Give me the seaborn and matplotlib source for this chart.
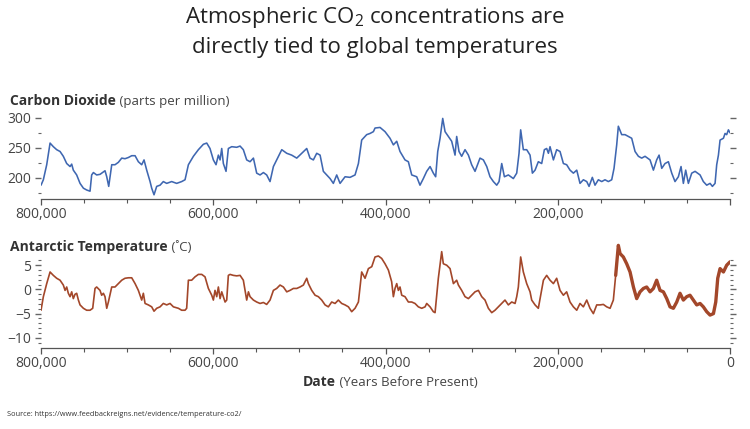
import matplotlib
matplotlib.use("Agg")
import matplotlib.pyplot as plt
import matplotlib.ticker as mticker
import seaborn as sns
import pandas as pd

# values (age in thousands of years before present)
co2_age = [800.0, 797.3, 793.4, 789.5, 785.7, 781.8, 777.9, 774.1, 770.2, 766.3, 764.4, 762.5, 758.6, 754.7,
           750.8, 747.0, 743.1, 741.2, 739.2, 735.4, 731.5, 725.7, 723.7, 721.4, 717.9, 714.1, 710.2, 706.3,
           702.5, 698.6, 694.7, 690.8, 687.0, 683.1, 680.4, 677.3, 673.4, 671.5, 668.8, 665.7, 661.8, 658.0,
           654.1, 648.3, 642.5, 636.7, 632.8, 628.9, 623.1, 617.3, 611.5, 607.6, 603.8, 599.9, 596.8, 594.1,
           592.1, 590.2, 588.3, 585.2, 582.5, 578.6, 572.8, 568.9, 565.1, 561.2, 557.3, 553.4, 549.6, 545.7,
           541.8, 538.0, 534.1, 530.2, 526.4, 520.5, 514.7, 509.0, 503.1, 497.3, 491.5, 487.7, 483.8, 479.9,
           476.0, 472.2, 468.3, 464.4, 460.6, 456.7, 452.8, 447.0, 441.2, 435.4, 431.5, 427.7, 421.9, 418.0,
           414.1, 412.2, 406.4, 400.6, 394.8, 390.9, 387.0, 383.2, 377.4, 373.5, 369.6, 363.8, 360.0, 356.1,
           352.2, 348.3, 344.5, 341.8, 339.4, 336.7, 333.6, 330.9, 327.1, 323.2, 319.3, 317.4, 314.7, 311.6,
           307.7, 303.8, 300.0, 296.1, 290.3, 286.4, 282.5, 278.7, 274.8, 270.9, 268.2, 265.1, 262.0, 257.4,
           251.6, 247.7, 245.0, 243.1, 240.0, 236.1, 232.2, 229.5, 226.4, 222.6, 218.7, 215.6, 212.9, 210.9,
           209.0, 205.1, 201.3, 197.4, 193.5, 189.7, 185.8, 181.9, 178.0, 174.2, 170.3, 166.4, 163.7, 159.9,
           156.8, 152.9, 149.0, 145.2, 141.3, 137.4, 134.7, 131.6, 129.7, 125.8, 121.9, 118.0, 114.2, 110.3,
           106.4, 102.6, 98.7, 92.9, 89.0, 85.2, 82.4, 79.3, 75.5, 71.6, 67.7, 63.9, 60.0, 56.9, 54.2, 51.5,
           48.4, 44.5, 40.6, 34.8, 31.0, 27.1, 23.2, 20.5, 17.4, 15.5, 13.5, 11.6, 7.7, 5.8, 3.9, 1.9, 0.0]
co2_ppm = [188, 197, 222, 258, 252, 247, 244, 236, 224, 219, 223, 213, 205, 191,
           183, 180, 178, 205, 209, 205, 206, 212, 202, 186, 222, 222, 226, 233,
           232, 234, 237, 237, 227, 222, 230, 213, 194, 183, 172, 186, 188, 194,
           191, 194, 191, 194, 197, 222, 236, 247, 256, 258, 249, 230, 222, 238,
           230, 249, 224, 211, 249, 252, 251, 253, 247, 230, 227, 233, 208, 205,
           209, 205, 194, 219, 230, 247, 241, 238, 233, 241, 249, 233, 230, 241,
           238, 211, 205, 199, 191, 205, 191, 202, 201, 205, 224, 263, 272, 274,
           277, 283, 284, 277, 266, 255, 261, 244, 230, 227, 205, 202, 188, 199,
           211, 219, 208, 202, 244, 266, 299, 277, 269, 261, 238, 269, 244, 236,
           247, 238, 222, 211, 233, 230, 219, 202, 194, 188, 194, 224, 202, 205,
           199, 208, 241, 280, 247, 247, 238, 208, 213, 227, 224, 247, 249, 241,
           252, 230, 247, 244, 224, 222, 213, 208, 213, 191, 197, 194, 186, 201,
           188, 197, 194, 197, 194, 197, 216, 255, 286, 272, 272, 269, 266, 244,
           236, 233, 236, 230, 213, 230, 238, 216, 224, 227, 208, 194, 202, 219, 191, 213,
           191, 208, 211, 205, 194, 188, 191, 186, 191, 222, 238, 263, 266, 274, 272, 280, 275]

temp_age = [800.0, 797.3, 793.4, 789.5, 785.7, 781.8, 777.9, 774.1, 772.1, 770.2, 768.3, 766.3, 764.4, 762.5,
            760.5, 758.6, 756.6, 754.7, 750.8, 747.0, 743.1, 740.0, 737.3, 735.4, 731.5, 729.6, 727.6, 725.7,
            723.7, 721.8, 717.9, 714.1, 710.2, 706.3, 702.5, 698.6, 694.7, 690.8, 687.0, 683.1, 681.2, 679.2,
            675.4, 671.5, 668.8, 665.7, 661.8, 658.0, 654.1, 650.2, 646.3, 640.5, 636.7, 632.8, 630.9, 628.9,
            625.1, 621.2, 617.3, 613.4, 609.6, 605.7, 601.8, 599.9, 598.0, 596.0, 594.1, 592.1, 590.2, 588.3,
            586.3, 584.4, 582.5, 580.5, 576.7, 572.8, 568.9, 565.1, 561.2, 559.2, 557.3, 553.4, 549.6, 545.7,
            541.8, 538.0, 534.1, 530.2, 526.4, 522.5, 518.6, 514.7, 510.9, 507.0, 503.1, 499.3, 495.4, 491.5,
            489.6, 485.7, 481.8, 478.0, 474.1, 470.2, 466.4, 462.5, 458.6, 454.8, 450.9, 447.0, 443.1, 439.3,
            435.4, 431.5, 427.7, 423.8, 419.9, 416.0, 412.2, 408.3, 404.5, 400.6, 396.7, 392.9, 390.9, 389.0,
            387.0, 385.1, 383.2, 381.2, 377.4, 373.5, 369.6, 365.8, 361.9, 358.0, 354.1, 352.2, 348.3, 344.5,
            342.5, 338.7, 334.8, 332.9, 329.0, 325.1, 321.2, 317.4, 315.4, 311.6, 307.7, 303.8, 300.0, 296.1,
            292.2, 288.3, 284.5, 280.6, 276.7, 272.9, 269.0, 265.1, 261.3, 257.4, 253.5, 249.6, 247.7, 245.8,
            243.1, 240.0, 236.1, 232.2, 230.3, 226.4, 222.6, 220.6, 216.7, 212.9, 209.0, 205.1, 201.3, 197.4,
            193.5, 189.7, 185.8, 181.9, 178.0, 174.2, 170.3, 166.4, 162.6, 158.7, 154.8, 150.9, 147.1, 143.2,
            139.3, 135.5, 132.8, 129.7, 127.7, 123.9, 120.0, 116.1, 112.2, 108.4, 104.5, 100.6, 96.8, 92.9,
            89.0, 85.2, 81.3, 77.4, 73.5, 69.7, 65.8, 61.9, 58.1, 54.2, 50.3, 46.5, 42.6, 38.7, 34.8, 31.0,
            27.1, 23.2, 19.3, 16.6, 14.3, 11.6, 7.7, 3.9, 0.0]
temp_c = [-4.3, -1.5, 1.2, 3.6, 2.9, 2.3, 1.9, 0.9, -0.2, 0.5, -0.8, -1.5, -0.5, -1.9,
          -1.0, -0.8, -2.2, -3.2, -3.9, -4.3, -4.3, -3.9, 0.2, 0.5, -0.2, -1.2, -0.8, -1.5,
          -3.9, -2.6, 0.5, 0.5, 1.2, 1.9, 2.3, 2.4, 2.4, 1.2, -0.2, -2.2, -0.8, -2.9,
          -3.2, -3.6, -4.5, -3.9, -3.6, -2.9, -3.2, -2.9, -3.6, -3.9, -4.3, -4.3, -3.9, 1.9,
          1.9, 2.6, 3.1, 3.1, 2.6, 0.2, -1.2, -2.2, -0.2, -1.5, 0.5, -1.9, -0.5, -1.5,
          -2.6, -2.2, 2.9, 3.1, 2.9, 2.8, 2.9, 1.9, -2.2, -0.5, -1.5, -2.2, -2.6, -2.9,
          -2.7, -3.1, -2.2, -0.2, 0.2, 0.9, 0.5, -0.5, -0.2, 0.2, 0.2, 0.5, 0.9, 2.3,
          1.2, -0.2, -1.2, -1.5, -2.2, -3.2, -3.6, -2.6, -2.9, -2.2, -2.9, -3.2, -3.6, -4.6,
          -3.9, -2.6, 3.6, 2.3, 4.3, 4.7, 6.7, 6.9, 6.4, 5.3, 4.0, 1.6, -1.5, 0.2,
          1.2, -0.2, 0.5, -1.2, -1.5, -2.6, -2.6, -2.9, -3.6, -3.9, -3.6, -2.9, -3.6, -4.6,
          -4.8, 2.3, 7.8, 5.3, 5.0, 4.3, 1.2, 1.9, 0.9, -0.2, -1.5, -1.9, -1.2, -0.5,
          -0.2, -1.5, -2.2, -3.9, -4.8, -4.3, -3.6, -2.9, -2.2, -3.2, -2.6, -2.9, -1.5, 0.5,
          6.7, 3.6, 1.2, -0.5, -2.2, -3.2, -3.9, -1.9, 1.9, 2.9, 1.9, 1.2, 2.3, -0.2,
          -1.2, -0.5, -2.6, -3.6, -4.3, -2.9, -3.6, -2.2, -3.9, -5.0, -3.2, -3.2, -3.1, -3.6,
          -3.9, -2.2, 2.9, 9.1, 7.4, 6.7, 5.3, 3.6, 0.5, -1.9, -0.5, 0.2, 0.5, -0.5,
          0.2, 1.9, -0.2, -0.5, -1.9, -3.6, -3.9, -2.6, -0.8, -2.2, -1.5, -1.2, -2.2, -3.2, -2.9, -3.6,
          -4.6, -5.3, -5.0, -2.6, 2.3, 4.3, 3.6, 5.0, 5.7]

co2_df = pd.DataFrame({"age": co2_age, "ppm": co2_ppm})
temp_df = pd.DataFrame({"age": temp_age, "temp": temp_c})
# the most recent part of the record is densely sampled and shows up as a thick band
recent = temp_df[temp_df["age"] <= 133]

sns.set_theme(style="white")
plt.rcParams["font.family"] = ["Open Sans", "DejaVu Sans"]
plt.rcParams["mathtext.fontset"] = "custom"
plt.rcParams["mathtext.rm"] = "Open Sans"

fig = plt.figure(figsize=(7.5, 4.29), dpi=100)
ax1 = fig.add_axes([0.0547, 0.5361, 0.9187, 0.2005])
ax2 = fig.add_axes([0.0547, 0.1888, 0.9187, 0.2517])

sns.lineplot(data=co2_df, x="age", y="ppm", ax=ax1, color="#3f67b1", linewidth=1.15,
             sort=False, estimator=None)
sns.lineplot(data=temp_df, x="age", y="temp", ax=ax2, color="#a3472a", linewidth=1.2,
             sort=False, estimator=None)
sns.lineplot(data=recent, x="age", y="temp", ax=ax2, color="#a3472a", linewidth=2.4,
             sort=False, estimator=None)

grey = "#444444"


def years_fmt(hide_zero):
    def f(v, pos):
        if hide_zero and abs(v) < 1e-6:
            return ""
        return "{:,.0f}".format(v * 1000)
    return mticker.FuncFormatter(f)


for ax, hide0 in [(ax1, True), (ax2, False)]:
    ax.set_xlim(800, 0)
    ax.set_xlabel("")
    ax.set_ylabel("")
    for s in ["top", "right", "left"]:
        ax.spines[s].set_visible(False)
    ax.spines["bottom"].set_color("#555555")
    ax.spines["bottom"].set_linewidth(0.9)
    ax.xaxis.set_major_locator(mticker.MultipleLocator(200))
    ax.xaxis.set_minor_locator(mticker.MultipleLocator(50))
    ax.xaxis.set_major_formatter(years_fmt(hide0))
    ax.tick_params(axis="x", which="major", direction="out", length=4, width=0.9,
                   colors="#555555", labelcolor=grey, labelsize=10, pad=2, bottom=True)
    ax.tick_params(axis="x", which="minor", direction="out", length=3, width=0.8,
                   colors="#555555", bottom=True)
    ax.tick_params(axis="y", which="both", left=True, right=True, direction="out",
                   colors="#666666", labelcolor=grey, labelsize=10, pad=3)
    ax.tick_params(axis="y", which="major", length=4, width=1.0)
    ax.tick_params(axis="y", which="minor", length=2, width=0.8)

ax1.set_ylim(165, 308)
ax1.yaxis.set_major_locator(mticker.MultipleLocator(50))
ax1.yaxis.set_minor_locator(mticker.MultipleLocator(25))

ax2.set_ylim(-12.1, 10.2)
ax2.yaxis.set_major_locator(mticker.FixedLocator([-10, -5, 0, 5]))
ax2.yaxis.set_minor_locator(mticker.FixedLocator(list(range(-11, 7))))

# panel labels
t1 = fig.text(10 / 750, 1 - 101 / 429, "Carbon Dioxide", fontsize=10, fontweight="bold",
              color="#333333", va="center", ha="left")
fig.add_artist(plt.Annotation(" (parts per million)", xy=(1, 0.5), xycoords=t1,
                              va="center", ha="left", fontsize=9.5, color="#444444"))
t2 = fig.text(10 / 750, 1 - 247 / 429, "Antarctic Temperature", fontsize=10, fontweight="bold",
              color="#333333", va="center", ha="left")
fig.add_artist(plt.Annotation(" (˚C)", xy=(1, 0.5), xycoords=t2,
                              va="center", ha="left", fontsize=9.5, color="#444444"))
t3 = fig.text(303 / 750, 1 - 382 / 429, "Date", fontsize=10, fontweight="bold",
              color="#333333", va="center", ha="left")
fig.add_artist(plt.Annotation(" (Years Before Present)", xy=(1, 0.5), xycoords=t3,
                              va="center", ha="left", fontsize=9.5, color="#444444"))

# title
fig.text(0.5, 1 - 18 / 429, r"Atmospheric CO$_{\mathrm{2}}$ concentrations are", fontsize=16,
         color="#222222", ha="center", va="center")
fig.text(0.5, 1 - 47 / 429, "directly tied to global temperatures", fontsize=16,
         color="#222222", ha="center", va="center")

fig.text(7 / 750, 1 - 415 / 429, "Source: https://www.feedbackreigns.net/evidence/temperature-co2/",
         fontsize=5.3, color="#333333", ha="left", va="center")

fig.savefig("out.png", dpi=100, facecolor="white")
